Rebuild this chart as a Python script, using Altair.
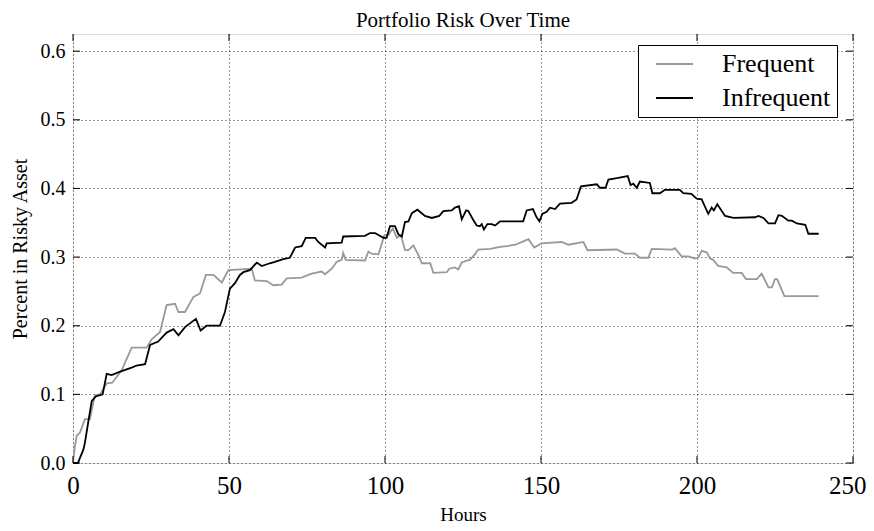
import altair as alt
import pandas as pd

# ---- data ----
freq_hours = [0, 0.6, 1.2, 2.2, 3.8, 5.4, 7.0, 8.6, 10.8, 12.6, 15.6, 18.8, 23.6, 25.2, 27.9, 30.0, 32.7, 33.8, 35.9,
              38.6, 40.7, 42.6, 45.0, 47.7, 49.8, 57.3, 58.3, 62.1, 64.2, 66.9, 68.5, 73.3, 76.5, 79.7, 80.8, 82.9,
              84.5, 86.1, 86.6, 87.4, 93.6, 94.7, 95.7, 97.9, 99.8, 101.1, 102.5, 103.8, 105.1, 106.4, 107.5, 109.1,
              110.7, 111.8, 114.5, 115.5, 119.8, 120.6, 122.4, 123.5, 124.6, 126.2, 127.2, 128.8, 129.9, 133.7,
              136.9, 139.1, 141.8, 143.4, 146.0, 147.8, 150.2, 156.6, 158.8, 162.5, 163.6, 164.9, 174.3, 176.9,
              180.1, 181.7, 184.4, 185.5, 192.1, 192.9, 195.1, 197.2, 199.4, 200.4, 201.5, 203.1, 204.2, 205.2,
              206.8, 209.5, 211.6, 214.3, 215.7, 219.2, 220.7, 222.9, 224.0, 225.0, 225.7, 228.0, 239.0]
freq_values = [0.0, 0.024, 0.04, 0.044, 0.064, 0.064, 0.099, 0.1, 0.116, 0.117, 0.135, 0.168, 0.168, 0.18, 0.191,
               0.23, 0.232, 0.22, 0.22, 0.242, 0.247, 0.274, 0.274, 0.263, 0.281, 0.283, 0.266, 0.265, 0.259, 0.26,
               0.269, 0.27, 0.276, 0.279, 0.275, 0.283, 0.293, 0.296, 0.306, 0.296, 0.295, 0.308, 0.305, 0.304,
               0.332, 0.332, 0.342, 0.328, 0.332, 0.31, 0.31, 0.317, 0.303, 0.291, 0.291, 0.277, 0.278, 0.283,
               0.285, 0.282, 0.292, 0.295, 0.296, 0.304, 0.311, 0.312, 0.315, 0.316, 0.318, 0.321, 0.326, 0.314,
               0.32, 0.322, 0.318, 0.321, 0.322, 0.31, 0.311, 0.305, 0.305, 0.299, 0.299, 0.312, 0.311, 0.313,
               0.301, 0.301, 0.298, 0.299, 0.309, 0.307, 0.298, 0.296, 0.287, 0.285, 0.277, 0.277, 0.268, 0.268,
               0.276, 0.256, 0.256, 0.268, 0.268, 0.243, 0.243]

infreq_hours = [0, 1.6, 2.2, 3.3, 3.8, 4.9, 6.0, 7.3, 9.5, 10.8, 12.4, 15.1, 18.8, 20.4, 23.1, 24.7, 27.3, 30.0,
                32.2, 33.8, 35.9, 39.4, 40.9, 42.8, 47.1, 48.7, 50.3, 51.9, 53.5, 54.6, 56.7, 58.9, 60.5, 63.1,
                64.7, 67.4, 69.5, 71.2, 73.3, 74.6, 77.6, 78.6, 80.8, 81.3, 86.1, 86.6, 93.6, 95.2, 96.8, 99.5,
                100.5, 101.6, 103.2, 104.3, 105.4, 106.4, 107.5, 108.6, 110.4, 112.8, 115.0, 117.4, 118.7, 121.4,
                122.4, 123.7, 124.6, 126.0, 126.7, 128.3, 129.4, 130.4, 131.0, 131.7, 132.8, 134.2, 135.3, 136.9,
                144.3, 145.4, 147.4, 148.6, 149.5, 150.4, 151.8, 152.9, 154.5, 156.1, 159.8, 161.4, 162.8, 167.9,
                168.9, 170.7, 171.6, 174.3, 177.8, 178.7, 179.6, 180.7, 181.7, 184.9, 185.7, 188.1, 189.7, 194.5,
                195.6, 198.2, 199.9, 201.5, 203.6, 204.7, 205.4, 206.5, 209.0, 211.7, 218.6, 219.7, 221.3, 222.9,
                225.0, 226.1, 227.2, 229.3, 230.4, 232.0, 234.7, 235.7, 239.0]
infreq_values = [0.0, 0.0, 0.007, 0.019, 0.029, 0.06, 0.09, 0.097, 0.1, 0.13, 0.128, 0.133, 0.139, 0.142, 0.144,
                 0.172, 0.177, 0.19, 0.195, 0.186, 0.198, 0.21, 0.193, 0.2, 0.2, 0.22, 0.254, 0.262, 0.274, 0.278,
                 0.281, 0.292, 0.287, 0.291, 0.293, 0.297, 0.299, 0.314, 0.316, 0.328, 0.328, 0.322, 0.314, 0.32,
                 0.321, 0.33, 0.331, 0.335, 0.335, 0.328, 0.328, 0.345, 0.345, 0.333, 0.33, 0.351, 0.352, 0.364,
                 0.369, 0.36, 0.357, 0.36, 0.367, 0.368, 0.372, 0.374, 0.355, 0.368, 0.367, 0.354, 0.346, 0.345,
                 0.348, 0.34, 0.348, 0.348, 0.346, 0.352, 0.352, 0.368, 0.37, 0.358, 0.352, 0.363, 0.366, 0.372,
                 0.37, 0.378, 0.379, 0.384, 0.403, 0.406, 0.401, 0.401, 0.413, 0.415, 0.418, 0.405, 0.407, 0.401,
                 0.41, 0.408, 0.393, 0.393, 0.398, 0.398, 0.393, 0.392, 0.385, 0.384, 0.363, 0.372, 0.368, 0.377,
                 0.36, 0.357, 0.358, 0.36, 0.357, 0.349, 0.349, 0.361, 0.36, 0.353, 0.353, 0.349, 0.347, 0.334,
                 0.334]

series_names = ["Frequent", "Infrequent"]
series_colors = ["#999999", "#000000"]
x_ticks = [0, 50, 100, 150, 200, 250]
y_ticks = [0.0, 0.1, 0.2, 0.3, 0.4, 0.5, 0.6]

FONT = "Liberation Serif"
W, H = 780, 429

df = pd.concat([
    pd.DataFrame({"Hours": freq_hours, "Value": freq_values, "Series": "Frequent", "order": range(len(freq_hours))}),
    pd.DataFrame({"Hours": infreq_hours, "Value": infreq_values, "Series": "Infrequent", "order": range(len(infreq_hours))}),
])

xscale = alt.Scale(domain=[0, 250], nice=False)
yscale = alt.Scale(domain=[0, 0.625], nice=False)

lines = alt.Chart(df).mark_line(strokeWidth=1.8).encode(
    x=alt.X("Hours:Q", scale=xscale,
            axis=alt.Axis(values=x_ticks, format="d", title="Hours", grid=True, gridDash=[1, 3],
                          gridColor="#000000", gridWidth=0.8, domain=False, ticks=False, tickSize=0,
                          labelFlush=False, labelFont=FONT, labelFontSize=25, labelColor="#000",
                          labelPadding=10,
                          labelAlign=alt.ConditionalAxisLabelAlign(
                              condition={"test": "datum.value >= 250", "value": "right"}, value="center"),
                          labelOffset=alt.ConditionalAxisNumber(
                              condition={"test": "datum.value >= 250", "value": 13}, value=0),
                          titleFont=FONT, titleFontSize=19, titleFontWeight="normal", titleColor="#000",
                          titlePadding=7)),
    y=alt.Y("Value:Q", scale=yscale,
            axis=alt.Axis(values=y_ticks, format=".1f", title="Percent in Risky Asset", grid=True,
                          gridDash=[1, 3], gridColor="#000000", gridWidth=0.8, domain=False, ticks=False,
                          tickSize=0, labelFlush=False, labelFont=FONT, labelFontSize=20, labelColor="#000",
                          labelPadding=8,
                          titleFont=FONT, titleFontSize=20, titleFontWeight="normal", titleColor="#000",
                          titlePadding=10)),
    color=alt.Color("Series:N", scale=alt.Scale(domain=series_names, range=series_colors),
                    legend=alt.Legend(title=None, orient="none", legendX=565, legendY=11,
                                      fillColor="white", strokeColor="black", padding=6,
                                      labelFont=FONT, labelFontSize=26, labelColor="#000",
                                      symbolType="stroke", symbolSize=1369, symbolStrokeWidth=2,
                                      symbolOffset=11, labelOffset=28, rowPadding=8, clipHeight=26,
                                      cornerRadius=0)),
    order="order:Q",
)

xt = pd.DataFrame({"t": x_ticks})
yt = pd.DataFrame({"t": y_ticks})
tick_bottom = alt.Chart(xt).mark_rule(color="black", strokeWidth=1).encode(
    x=alt.X("t:Q", scale=xscale), y=alt.value(H), y2=alt.value(H - 7))
tick_top = alt.Chart(xt).mark_rule(color="black", strokeWidth=1).encode(
    x=alt.X("t:Q", scale=xscale), y=alt.value(0), y2=alt.value(7))
tick_left = alt.Chart(yt).mark_rule(color="black", strokeWidth=1).encode(
    y=alt.Y("t:Q", scale=yscale), x=alt.value(0), x2=alt.value(7))
tick_right = alt.Chart(yt).mark_rule(color="black", strokeWidth=1).encode(
    y=alt.Y("t:Q", scale=yscale), x=alt.value(W), x2=alt.value(W - 7))

chart = alt.layer(lines, tick_bottom, tick_top, tick_left, tick_right).properties(
    width=W, height=H,
    title=alt.TitleParams("Portfolio Risk Over Time", font=FONT, fontSize=21, fontWeight="normal",
                          color="#000", anchor="middle", offset=3),
    autosize=alt.AutoSizeParams(type="none"),
    padding={"left": 65, "top": 26, "right": 13, "bottom": 60},
).configure_view(stroke="black", strokeWidth=1.3).configure(background="white")

chart.save("out.html", embed_options={"renderer": "svg", "actions": False})
